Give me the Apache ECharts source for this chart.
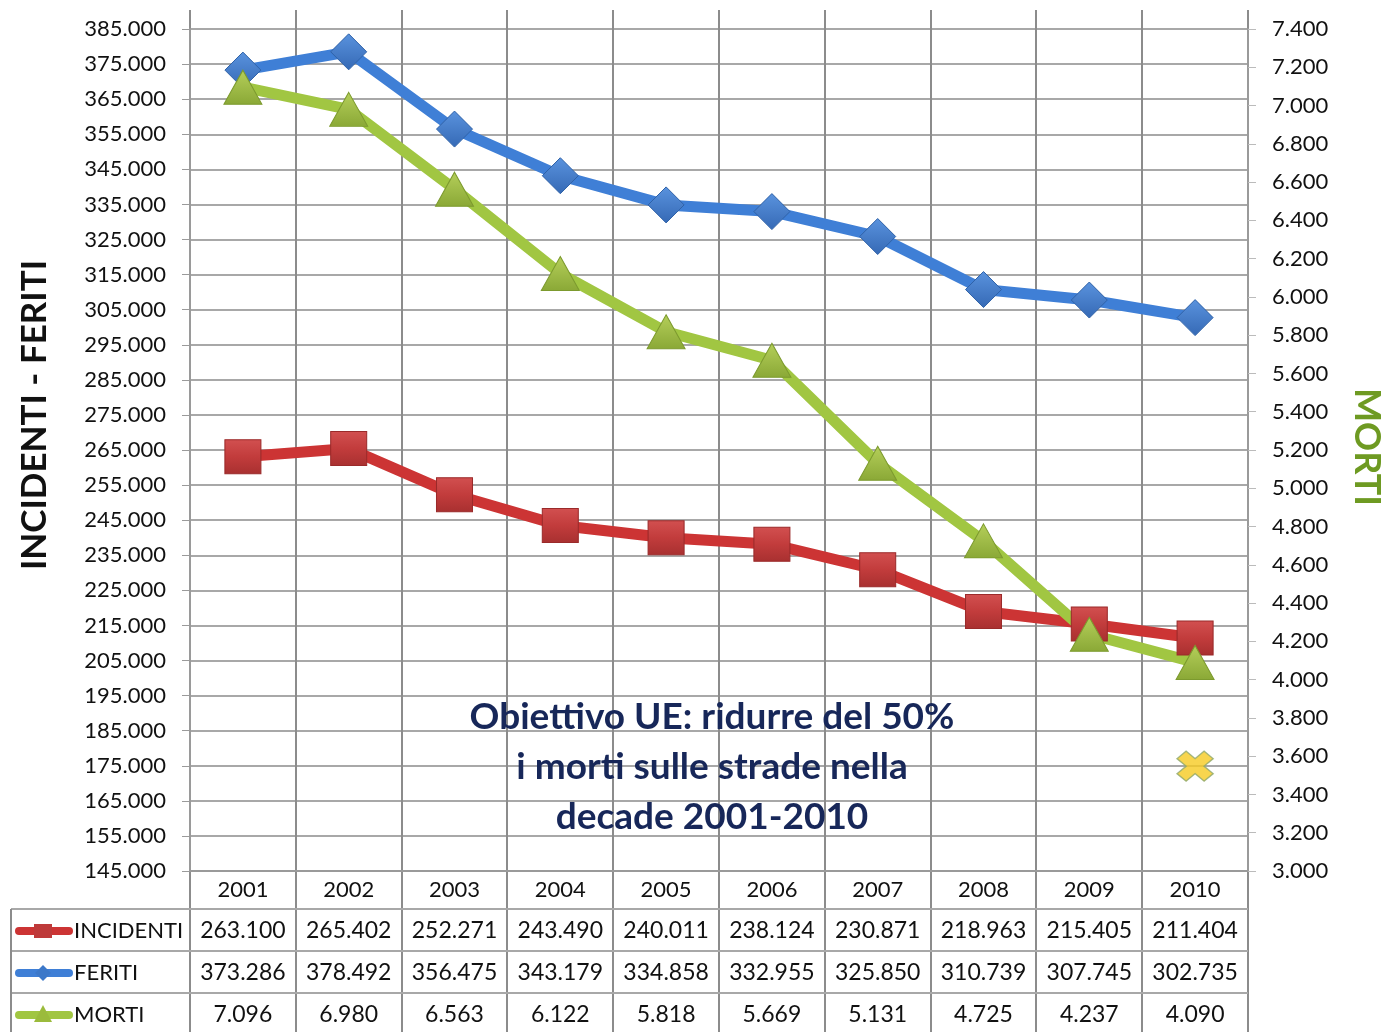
<!DOCTYPE html>
<html>
<head>
<meta charset="utf-8">
<script src="https://cdn.jsdelivr.net/npm/echarts@6/dist/echarts.min.js"></script>
<style>
html,body{margin:0;padding:0;background:#fff;}
#chart{width:1389px;height:1032px;}
</style>
</head>
<body>
<div id="chart"></div>
<script>
const categories = ['2001','2002','2003','2004','2005','2006','2007','2008','2009','2010'];
const incidenti = [263100, 265402, 252271, 243490, 240011, 238124, 230871, 218963, 215405, 211404];
const feriti    = [373286, 378492, 356475, 343179, 334858, 332955, 325850, 310739, 307745, 302735];
const morti     = [7096, 6980, 6563, 6122, 5818, 5669, 5131, 4725, 4237, 4090];
const obiettivo = [null, null, null, null, null, null, null, null, null, 3548];
const seriesNames = ['INCIDENTI', 'FERITI', 'MORTI'];
const leftAxisTitle = 'INCIDENTI - FERITI';
const rightAxisTitle = 'MORTI';
const noteLines = ['Obiettivo UE: ridurre del 50%', 'i morti sulle strade nella', 'decade 2001-2010'];

const FONT = 'Lato, "Open Sans", sans-serif';
function fmt(v){ return String(Math.round(v)).replace(/\B(?=(\d{3})+(?!\d))/g, '.'); }

const RED_LINE = '#CC3434', RED_MK = '#BE3A3A';
const BLUE_LINE = '#3F7FD6', BLUE_MK = '#3C78C9';
const GREEN_LINE = '#A1C642', GREEN_MK = '#9BBB3C';
const GRID_C = '#9a9a9a';
const XPATH = 'path://M0,5 L5,0 L10,5 L15,0 L20,5 L15,10 L20,15 L15,20 L10,15 L5,20 L0,15 L5,10 Z';

const chart = echarts.init(document.getElementById('chart'), null, {renderer:'canvas'});
const option = {
  animation: false,
  backgroundColor: '#fff',
  grid: {left: 190, right: 141, top: 29, bottom: 161, containLabel: false},
  xAxis: {
    type: 'category', data: categories, boundaryGap: true,
    axisLine: {show: true, lineStyle: {color: GRID_C, width: 2}},
    axisTick: {show: false},
    axisLabel: {color: '#111', fontFamily: FONT, fontSize: 22, margin: 8},
    splitLine: {show: false}
  },
  yAxis: [
    {
      type: 'value', min: 145000, max: 385000, interval: 10000, position: 'left',
      axisLine: {show: true, lineStyle: {color: GRID_C, width: 2}},
      axisTick: {show: true, length: 8, lineStyle: {color: GRID_C}},
      axisLabel: {color: '#111', fontFamily: FONT, fontSize: 22, margin: 24, formatter: fmt},
      splitLine: {show: true, lineStyle: {color: '#a8a8a8', width: 2}}
    },
    {
      type: 'value', min: 3000, max: 7400, interval: 200, position: 'right',
      axisLine: {show: true, lineStyle: {color: GRID_C, width: 2}},
      axisTick: {show: true, length: 8, lineStyle: {color: '#bbb'}},
      axisLabel: {color: '#111', fontFamily: FONT, fontSize: 22, margin: 24, formatter: fmt},
      splitLine: {show: false}
    }
  ],
  series: [
    {
      name: seriesNames[0], type: 'line', data: incidenti, yAxisIndex: 0, z: 3,
      symbol: 'rect', symbolSize: [36, 34],
      lineStyle: {color: RED_LINE, width: 11},
      itemStyle: {color: new echarts.graphic.LinearGradient(0,0,0,1,[{offset:0,color:'#D25050'},{offset:0.5,color:'#C23C3C'},{offset:1,color:'#A83030'}]), borderColor: '#9a2a2a', borderWidth: 1}
    },
    {
      name: seriesNames[1], type: 'line', data: feriti, yAxisIndex: 0, z: 3,
      symbol: 'diamond', symbolSize: [36, 36],
      lineStyle: {color: BLUE_LINE, width: 11},
      itemStyle: {color: new echarts.graphic.LinearGradient(0,0,0,1,[{offset:0,color:'#5A93DE'},{offset:1,color:'#3569B5'}]), borderColor: '#2f62a8', borderWidth: 1}
    },
    {
      name: seriesNames[2], type: 'line', data: morti, yAxisIndex: 1, z: 3,
      symbol: 'triangle', symbolSize: [38, 34],
      lineStyle: {color: GREEN_LINE, width: 11},
      itemStyle: {color: new echarts.graphic.LinearGradient(0,0,0,1,[{offset:0,color:'#B5CF5A'},{offset:1,color:'#8AA836'}]), borderColor: '#7C9A2E', borderWidth: 1}
    },
    {
      name: 'Obiettivo', type: 'scatter', data: obiettivo, yAxisIndex: 1, z: 4,
      symbol: XPATH, symbolSize: [36, 30],
      itemStyle: {color: '#F6CB22', borderColor: '#8FA86A', borderWidth: 1.5}
    }
  ]
};
chart.setOption(option);

// Build decorations (extended category lines, data table, titles, note)
const g = [];
const centers = categories.map((c, i) => chart.convertToPixel({xAxisIndex: 0}, i));
const step = centers.length > 1 ? centers[1] - centers[0] : 100;
const leftX = centers[0] - step / 2;
const rightX = centers[centers.length - 1] + step / 2;
const TOP = 10, BOTTOM = 1032;
const rowY = [909, 951, 993];
const rowCenter = [931, 973, 1015];

for (let i = 0; i <= categories.length; i++) {
  const x = Math.round(leftX + i * step);
  g.push({type: 'line', z: 0, shape: {x1: x, y1: TOP, x2: x, y2: BOTTOM}, style: {stroke: '#8c8c8c', lineWidth: 2}});
}
rowY.forEach(y => g.push({type: 'line', z: 0, shape: {x1: 11, y1: y, x2: rightX, y2: y}, style: {stroke: '#a8a8a8', lineWidth: 2}}));
g.push({type: 'line', z: 0, shape: {x1: 11, y1: rowY[0], x2: 11, y2: BOTTOM}, style: {stroke: '#8c8c8c', lineWidth: 2}});

const rows = [incidenti, feriti, morti];
rows.forEach((arr, r) => {
  arr.forEach((v, i) => {
    g.push({type: 'text', z: 5, x: centers[i], y: rowCenter[r], style: {text: fmt(v), font: '23px ' + FONT, fill: '#111', align: 'center', verticalAlign: 'middle'}});
  });
  g.push({type: 'text', z: 5, x: 74, y: rowCenter[r], style: {text: seriesNames[r], font: '22px ' + FONT, fill: '#111', align: 'left', verticalAlign: 'middle'}});
});
// legend keys
const keyCols = [RED_LINE, BLUE_LINE, GREEN_LINE];
keyCols.forEach((c, r) => {
  const y = rowCenter[r];
  g.push({type: 'rect', z: 5, shape: {x: 15, y: y - 4, width: 58, height: 8, r: 4}, style: {fill: c}});
});
g.push({type: 'rect', z: 6, shape: {x: 34, y: rowCenter[0] - 7, width: 18, height: 14}, style: {fill: RED_MK}});
g.push({type: 'polygon', z: 6, shape: {points: [[43, rowCenter[1] - 8], [51, rowCenter[1]], [43, rowCenter[1] + 8], [35, rowCenter[1]]]}, style: {fill: BLUE_MK}});
g.push({type: 'polygon', z: 6, shape: {points: [[43, rowCenter[2] - 10], [52, rowCenter[2] + 7], [34, rowCenter[2] + 7]]}, style: {fill: GREEN_MK}});

// axis titles
g.push({type: 'text', z: 5, x: 35, y: 415, rotation: Math.PI / 2, style: {text: leftAxisTitle, font: 'bold 35px ' + FONT, fill: '#111', align: 'center', verticalAlign: 'middle'}});
g.push({type: 'text', z: 5, x: 1367, y: 447, rotation: -Math.PI / 2, style: {text: rightAxisTitle, font: 'bold 36px ' + FONT, fill: '#6E9A22', align: 'center', verticalAlign: 'middle'}});

// note
const noteX = (centers[4] + centers[5]) / 2 - 7;
noteLines.forEach((t, k) => {
  g.push({type: 'text', z: 5, x: noteX, y: 717 + k * 50, style: {text: t, font: 'bold 37px ' + FONT, fill: '#172759', align: 'center', verticalAlign: 'middle'}});
});

chart.setOption({graphic: {elements: g}});
</script>
</body>
</html>
